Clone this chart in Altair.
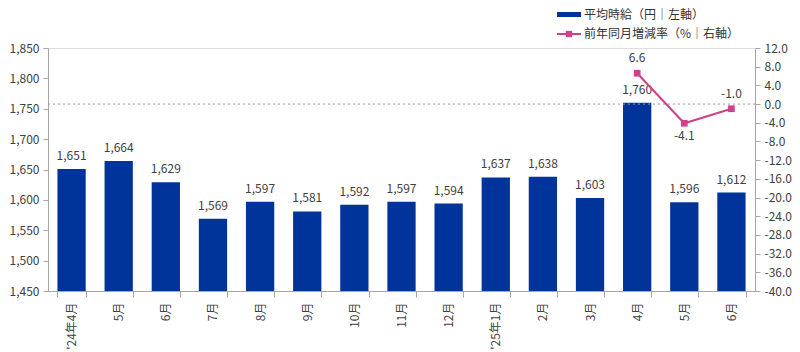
import altair as alt
import pandas as pd

months = ["'24年4月", "5月", "6月", "7月", "8月", "9月", "10月", "11月", "12月",
          "'25年1月", "2月", "3月", "4月", "5月 ", "6月 "]
wage = [1651, 1664, 1629, 1569, 1597, 1581, 1592, 1597, 1594, 1637, 1638, 1603, 1760, 1596, 1612]

yoy_months = ["4月", "5月 ", "6月 "]
yoy = [6.6, -4.1, -1.0]
yoy_label_pos = ["above", "below", "above"]

legend_labels = ["平均時給（円｜左軸）", "前年同月増減率（%｜右軸）"]

FONT = "Noto Sans CJK JP"
BAR = "#00349A"
LINE = "#D0408C"
TXT = "#404040"
AXIS = "#A6A6A6"

bars_df = pd.DataFrame({"month": months, "wage": wage})
line_df = pd.DataFrame({"month": yoy_months, "yoy": yoy, "pos": yoy_label_pos})

xenc = alt.X("month:N", sort=months, scale=alt.Scale(domain=months, paddingInner=0.4, paddingOuter=0.2),
             axis=alt.Axis(title=None, labelAngle=-90, labelFont=FONT, labelFontSize=12, labelColor=TXT,
                           domainColor=AXIS, tickColor=AXIS, tickBand="extent", tickSize=6,
                           labelPadding=5, labelLimit=100, labelOverlap=False))

left_axis = alt.Axis(title=None, values=list(range(1450, 1851, 50)), format=",.0f", grid=False,
                     labelFont=FONT, labelFontSize=12, labelColor=TXT, domainColor=AXIS,
                     tickColor=AXIS, tickSize=5, labelPadding=4, labelOverlap=False)
right_axis = alt.Axis(title=None, orient="right", values=list(range(-40, 13, 4)), format=".1f", grid=False,
                      labelFont=FONT, labelFontSize=12, labelColor=TXT, domainColor=AXIS,
                      tickColor=AXIS, tickSize=5, labelPadding=4, labelOverlap=False)
left_scale = alt.Scale(domain=[1450, 1850], nice=False, zero=False)
right_scale = alt.Scale(domain=[-40, 12], nice=False, zero=False)

yw = alt.Y("wage:Q", scale=left_scale, axis=left_axis)
yr = alt.Y("yoy:Q", scale=right_scale, axis=right_axis)

bars = alt.Chart(bars_df).mark_bar(color=BAR, clip=True).encode(x=xenc, y=yw)
bar_text = alt.Chart(bars_df).mark_text(baseline="bottom", dy=-6, font=FONT, fontSize=12, color=TXT).encode(
    x=xenc, y=yw, text=alt.Text("wage:Q", format=","))
left = alt.layer(bars, bar_text)

rule0 = alt.Chart(pd.DataFrame({"yoy": [0]})).mark_rule(color="#999999", strokeDash=[2, 3], strokeWidth=1).encode(
    y=yr)
line = alt.Chart(line_df).mark_line(color=LINE, strokeWidth=2).encode(x=xenc, y=yr)
pts = alt.Chart(line_df).mark_square(color=LINE, size=45, opacity=1).encode(x=xenc, y=yr)
lt_above = alt.Chart(line_df).transform_filter(alt.datum.pos == "above").mark_text(
    baseline="bottom", dy=-8, font=FONT, fontSize=12, color=TXT).encode(
    x=xenc, y=yr, text=alt.Text("yoy:Q", format=".1f"))
lt_below = alt.Chart(line_df).transform_filter(alt.datum.pos == "below").mark_text(
    baseline="top", dy=8, font=FONT, fontSize=12, color=TXT).encode(
    x=xenc, y=yr, text=alt.Text("yoy:Q", format=".1f"))
right = alt.layer(rule0, line, pts, lt_above, lt_below)

one = pd.DataFrame({"a": [0]})
leg_bar = alt.Chart(one).mark_rect(color=BAR).encode(
    x=alt.value(509), x2=alt.value(533), y=alt.value(-36), y2=alt.value(-31))
leg_line = alt.Chart(one).mark_rule(color=LINE, strokeWidth=2).encode(
    x=alt.value(509), x2=alt.value(533), y=alt.value(-14))
leg_pt = alt.Chart(one).mark_square(color=LINE, size=40, opacity=1).encode(
    x=alt.value(521), y=alt.value(-14))
leg_t1 = alt.Chart(one).mark_text(align="left", baseline="middle", font=FONT, fontSize=12, color="#333333").encode(
    x=alt.value(536), y=alt.value(-33), text=alt.value(legend_labels[0]))
leg_t2 = alt.Chart(one).mark_text(align="left", baseline="middle", font=FONT, fontSize=12, color="#333333").encode(
    x=alt.value(536), y=alt.value(-14), text=alt.value(legend_labels[1]))
legend = alt.layer(leg_bar, leg_line, leg_pt, leg_t1, leg_t2)

chart = alt.layer(left, right, legend).resolve_scale(y="independent").properties(
    width=707, height=243,
    autosize=alt.AutoSizeParams(type="none"),
    padding={"left": 48, "top": 48, "right": 45, "bottom": 61},
).configure_view(stroke=None).configure(
    background="white",
    locale={"number": {"decimal": ".", "thousands": ",", "grouping": [3],
                       "currency": ["", ""], "minus": "-"}},
)

chart.save("out.html", embed_options={"renderer": "svg", "actions": False})
